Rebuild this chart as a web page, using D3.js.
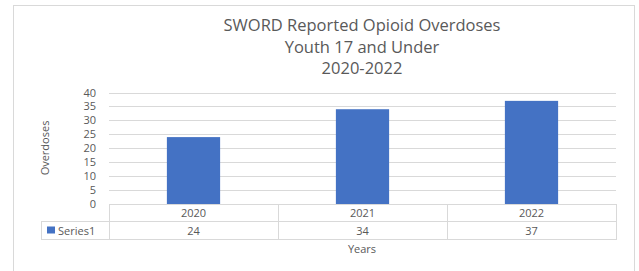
<!DOCTYPE html>
<html>
<head>
<meta charset="utf-8">
<script src="https://cdn.jsdelivr.net/npm/d3@7"></script>
<style>
  body { margin: 0; background: #fff; }
  text { font-family: "Open Sans", sans-serif; fill: #595959; }
</style>
</head>
<body>
<script>
var width = 639;
var height = 271;

// data
var years = ["2020", "2021", "2022"];
var overdoses = [24, 34, 37];
var seriesName = "Series1";
var yTicks = [0, 5, 10, 15, 20, 25, 30, 35, 40];
var titleLines = ["SWORD Reported Opioid Overdoses", "Youth 17 and Under", "2020-2022"];

var plot = { left: 109, right: 616, top: 92.5, bottom: 204 };
var rowH = [204, 221, 239];
var legendLeft = 41;

var svg = d3.select("body").append("svg")
  .attr("width", width).attr("height", height);

// outer chart border
svg.append("rect")
  .attr("x", 13.5).attr("y", 5.5).attr("width", 621).attr("height", 280)
  .style("fill", "#fff").style("stroke", "#d9d9d9");

// title
svg.selectAll(".title").data(titleLines).enter().append("text")
  .attr("class", "title")
  .attr("x", 362).attr("y", function (d, i) { return 31 + i * 21.5; })
  .attr("text-anchor", "middle")
  .style("font-size", "16.5px")
  .text(function (d) { return d; });

var x = d3.scaleBand().domain(years).range([plot.left, plot.right]).paddingInner(0).paddingOuter(0);
var y = d3.scaleLinear().domain([0, 40]).range([plot.bottom, plot.top]);

// gridlines
svg.selectAll(".grid").data(yTicks.slice(1)).enter().append("line")
  .attr("x1", plot.left).attr("x2", plot.right)
  .attr("y1", function (d) { return Math.round(y(d)) + 0.5; })
  .attr("y2", function (d) { return Math.round(y(d)) + 0.5; })
  .style("stroke", "#d9d9d9").style("stroke-width", 1);

// y axis labels
var yAxis = d3.axisLeft(y).tickValues(yTicks).tickSize(0).tickPadding(0);
var ga = svg.append("g").attr("transform", "translate(" + (plot.left - 13) + ",0)").call(yAxis);
ga.select(".domain").remove();
ga.selectAll("text").style("font-size", "11px").style("fill", "#595959")
  .style("font-family", "'Open Sans', sans-serif");

// bars
var barW = x.bandwidth() * 0.315;
svg.selectAll(".bar").data(overdoses).enter().append("rect")
  .attr("class", "bar")
  .attr("x", function (d, i) { return x(years[i]) + x.bandwidth() / 2 - barW / 2; })
  .attr("y", function (d) { return y(d); })
  .attr("width", barW)
  .attr("height", function (d) { return y(0) - y(d); })
  .style("fill", "#4472c4");

// data table
var tableColor = "#d9d9d9";
function hline(x1, x2, yy) {
  svg.append("line").attr("x1", x1).attr("x2", x2).attr("y1", yy + 0.5).attr("y2", yy + 0.5)
    .style("stroke", tableColor);
}
function vline(xx, y1, y2) {
  svg.append("line").attr("x1", xx + 0.5).attr("x2", xx + 0.5).attr("y1", y1).attr("y2", y2)
    .style("stroke", tableColor);
}
hline(plot.left, plot.right, rowH[0]);
hline(legendLeft, plot.right, rowH[1]);
hline(legendLeft, plot.right, rowH[2]);
vline(legendLeft, rowH[1], rowH[2] + 1);
vline(plot.left, rowH[0], rowH[2] + 1);
years.forEach(function (yr) {
  vline(Math.round(x(yr) + x.bandwidth()), rowH[0], rowH[2] + 1);
});

svg.selectAll(".cat").data(years).enter().append("text")
  .attr("x", function (d) { return x(d) + x.bandwidth() / 2; })
  .attr("y", rowH[0] + 13)
  .attr("text-anchor", "middle").style("font-size", "11px")
  .text(function (d) { return d; });

svg.selectAll(".val").data(overdoses).enter().append("text")
  .attr("x", function (d, i) { return x(years[i]) + x.bandwidth() / 2; })
  .attr("y", rowH[1] + 13.5)
  .attr("text-anchor", "middle").style("font-size", "11px")
  .text(function (d) { return d; });

// legend key
svg.append("rect").attr("x", 47).attr("y", 226.5).attr("width", 8).attr("height", 7)
  .style("fill", "#4472c4");
svg.append("text").attr("x", 58).attr("y", rowH[1] + 13.5)
  .style("font-size", "11px").text(seriesName);

// axis titles
svg.append("text").attr("x", 362).attr("y", 253)
  .attr("text-anchor", "middle").style("font-size", "11px").text("Years");
svg.append("text")
  .attr("transform", "translate(49,148) rotate(-90)")
  .attr("text-anchor", "middle").style("font-size", "11px").text("Overdoses");
</script>
</body>
</html>
